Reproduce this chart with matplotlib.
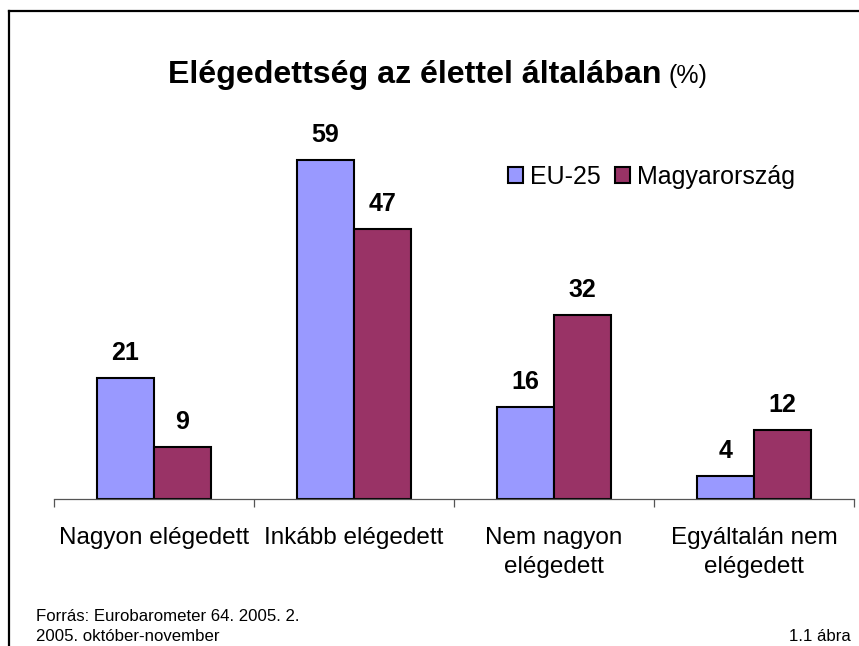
import matplotlib
matplotlib.use("Agg")
import matplotlib.pyplot as plt
from matplotlib.lines import Line2D
import numpy as np

plt.rcParams["font.family"] = ["Liberation Sans", "DejaVu Sans"]

categories = ["Nagyon elégedett", "Inkább elégedett", "Nem nagyon\nelégedett", "Egyáltalán nem\nelégedett"]
series_names = ["EU-25", "Magyarország"]
eu25 = [21, 59, 16, 4]
hungary = [9, 47, 32, 12]
colors = ["#9999FF", "#993366"]

W, H = 859, 646
fig = plt.figure(figsize=(W / 100, H / 100), dpi=100)

# axes placed in pixel terms: baseline y=499, 4 categories x 200px from x=54
ax = fig.add_axes([54 / W, (H - 499) / H, 800 / W, 369 / H])
x = np.arange(len(categories))
bw = 0.285
b1 = ax.bar(x - bw / 2, eu25, bw, color=colors[0], edgecolor="black", linewidth=1.5, label=series_names[0])
b2 = ax.bar(x + bw / 2, hungary, bw, color=colors[1], edgecolor="black", linewidth=1.5, label=series_names[1])

for bars, vals in ((b1, eu25), (b2, hungary)):
    for r, v in zip(bars, vals):
        ax.annotate(str(v), (r.get_x() + r.get_width() / 2, r.get_height()),
                    xytext=(0, 13), textcoords="offset points", ha="center", va="baseline",
                    fontsize=18, fontweight="bold")

ax.set_xlim(-0.5, len(categories) - 0.5)
ax.set_ylim(0, 64.2)
for s in ("left", "right", "top"):
    ax.spines[s].set_visible(False)
ax.spines["bottom"].set_color("#555555")
ax.spines["bottom"].set_linewidth(0.9)
ax.set_yticks([])
ax.set_xticks(np.arange(len(categories) + 1) - 0.5)
ax.set_xticklabels([])
ax.tick_params(axis="x", which="major", length=6, width=0.9, color="#555555")
ax.set_xticks(x, minor=True)
ax.set_xticklabels(categories, minor=True, fontsize=17.5, linespacing=1.45)
ax.tick_params(axis="x", which="minor", length=0, pad=20)

leg = ax.legend(loc="upper left", bbox_to_anchor=(0.5675, 0.905), ncol=2, frameon=False,
                fontsize=18, handlelength=0.6, handleheight=0.6, handletextpad=0.28,
                columnspacing=0.56, borderaxespad=0, borderpad=0)
for p in leg.get_patches():
    p.set_linewidth(1.5)

# title: bold part + regular (%)
fig.text(662 / W, (H - 83) / H, "Elégedettség az élettel általában", ha="right", va="baseline",
         fontsize=23.1, fontweight="bold")
fig.text(668 / W, (H - 83) / H, "(%)", ha="left", va="baseline", fontsize=18)

# footer
fig.text(36 / W, (H - 621) / H, "Forrás: Eurobarometer 64. 2005. 2.", ha="left", va="baseline", fontsize=12.1)
fig.text(36 / W, (H - 641) / H, "2005. október-november", ha="left", va="baseline", fontsize=12.1)
fig.text(851 / W, (H - 641) / H, "1.1 ábra", ha="right", va="baseline", fontsize=12.1)

# outer frame (top and left edges visible)
fig.add_artist(Line2D([9 / W, 1], [1 - 11 / H, 1 - 11 / H], color="black", linewidth=1.6))
fig.add_artist(Line2D([9 / W, 9 / W], [0, 1 - 11 / H], color="black", linewidth=1.6))

fig.savefig("out.png", dpi=100)
